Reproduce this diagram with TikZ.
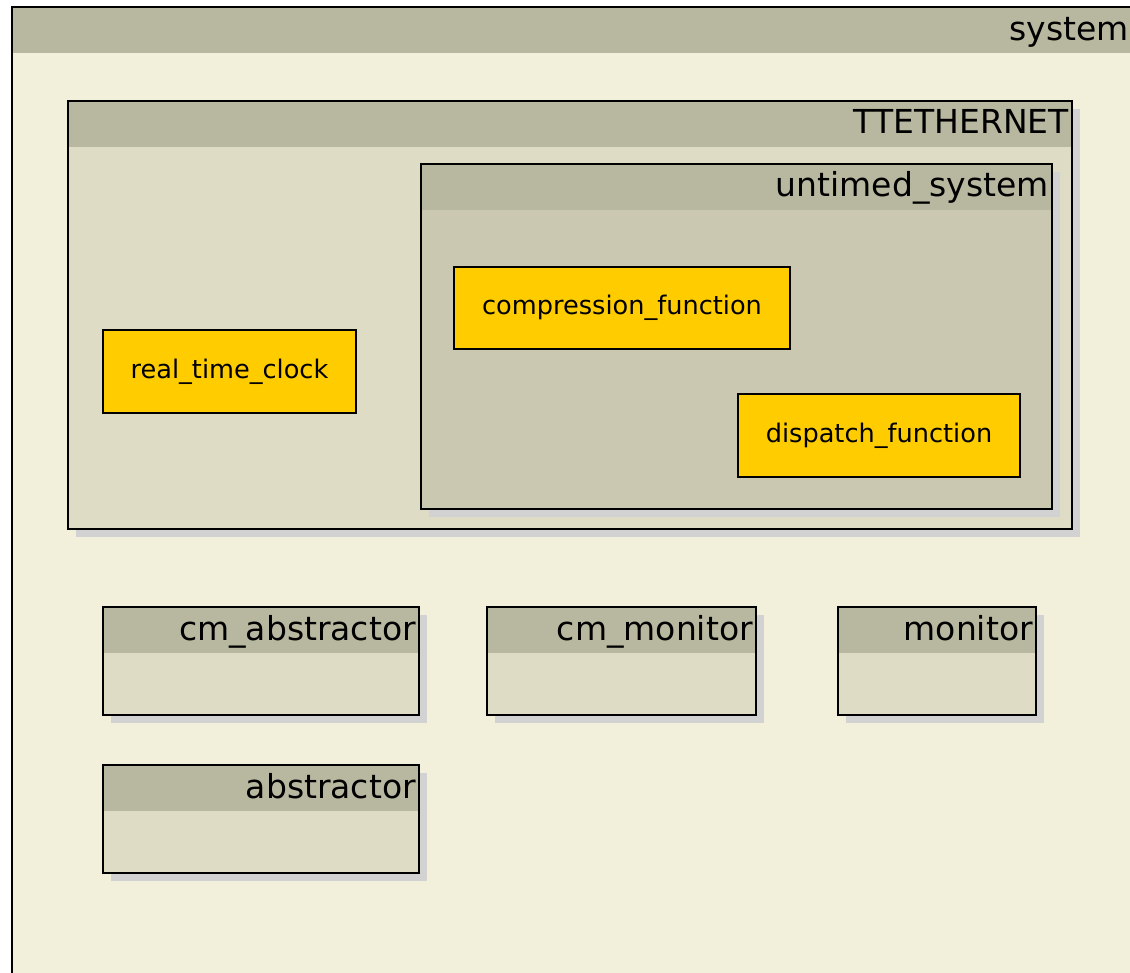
\documentclass[tikz,border=0pt]{standalone}
\usepackage{fontspec}
\setmainfont{DejaVu Sans}
\usetikzlibrary{shadows}

\definecolor{headfill}{HTML}{B8B8A0}
\definecolor{sysbody}{HTML}{F2F0DA}
\definecolor{netbody}{HTML}{DEDCC5}
\definecolor{untbody}{HTML}{CAC8B0}
\definecolor{funcfill}{HTML}{FFCC00}
\definecolor{shadowgray}{HTML}{D2D2D2}

\begin{document}
\begin{tikzpicture}[x=1pt,y=-1pt,
  pkg/.style={draw=black,line width=2pt,rectangle,inner sep=0pt,anchor=north west,
    path picture={\fill[headfill] (path picture bounding box.north west) rectangle ([yshift=-46pt]path picture bounding box.north east);}},
  shade/.style={general shadow={fill=shadowgray,shadow xshift=8pt,shadow yshift=-8pt}},
  title/.style={anchor=base east,inner sep=0pt,font=\fontsize{33}{39}\selectfont},
  func/.style={draw=black,line width=2pt,rectangle,fill=funcfill,inner sep=0pt,anchor=north west,font=\fontsize{25.6}{30}\selectfont}]
\useasboundingbox (0,0) rectangle (1130,973);
\clip (0,0) rectangle (1130,973);

% outer system frame runs off the page
\node[pkg,fill=sysbody,minimum width=1122pt,minimum height=990pt] (system) at (11,6) {};
\node[title] (system-t) at ([xshift=-6pt,yshift=-35pt]system.north east) {system};

% TTETHERNET block
\node[pkg,shade,fill=netbody,minimum width=1004pt,minimum height=428pt] (net) at (67,100) {};
\node[title] (net-t) at ([xshift=-4pt,yshift=-34pt]net.north east) {TTETHERNET};

\node[pkg,shade,fill=untbody,minimum width=631pt,minimum height=345pt] (untimed) at (420,163) {};
\node[title] (untimed-t) at ([xshift=-4pt,yshift=-34pt]untimed.north east) {untimed\_system};

\node[func,minimum width=253pt,minimum height=83pt] (rtc) at (102,329) {real\_time\_clock};
\node[func,minimum width=336pt,minimum height=82pt] (compress) at (453,266) {compression\_function};
\node[func,minimum width=282pt,minimum height=83pt] (dispatch) at (737,393) {dispatch\_function};

% standalone blocks below
\node[pkg,shade,fill=netbody,minimum width=316pt,minimum height=108pt] (cmabs) at (102,606) {};
\node[title] (cmabs-t) at ([xshift=-4pt,yshift=-34pt]cmabs.north east) {cm\_abstractor};

\node[pkg,shade,fill=netbody,minimum width=269pt,minimum height=108pt] (cmmon) at (486,606) {};
\node[title] (cmmon-t) at ([xshift=-4pt,yshift=-34pt]cmmon.north east) {cm\_monitor};

\node[pkg,shade,fill=netbody,minimum width=198pt,minimum height=108pt] (mon) at (837,606) {};
\node[title] (mon-t) at ([xshift=-4pt,yshift=-34pt]mon.north east) {monitor};

\node[pkg,shade,fill=netbody,minimum width=316pt,minimum height=108pt] (abs) at (102,764) {};
\node[title] (abs-t) at ([xshift=-4pt,yshift=-34pt]abs.north east) {abstractor};
\end{tikzpicture}
\end{document}
